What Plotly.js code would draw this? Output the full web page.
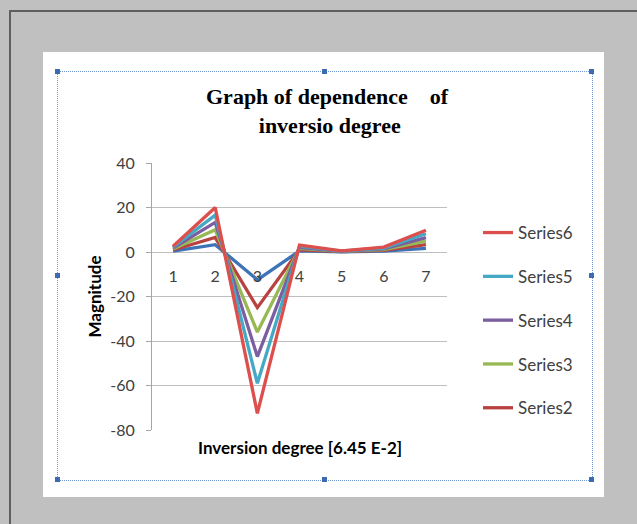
<!DOCTYPE html>
<html>
<head>
<meta charset="utf-8">
<script src="https://cdn.plot.ly/plotly-3.0.1.min.js"></script>
<style>
  html, body { margin: 0; padding: 0; width: 637px; height: 524px; overflow: hidden; background: #C0C0C0; }
  #frame { position: absolute; left: 9px; top: 10px; width: 640px; height: 520px;
           border-left: 2px solid #5E5E5E; border-top: 2px solid #5E5E5E; }
  #panel { position: absolute; left: 43px; top: 52px; width: 561px; height: 445px; background: #FFFFFF; }
  #sel { position: absolute; left: 57px; top: 71px; width: 534px; height: 408px;
         border: 1px dotted #6F98D2; }
  .h { position: absolute; width: 5px; height: 5px; background: #3A6BB3; }
  #chart { position: absolute; left: 0; top: 0; width: 637px; height: 524px; }
</style>
</head>
<body>
<div id="frame"></div>
<div id="panel"></div>
<div id="sel"></div>
<div class="h" style="left:55px;top:69px"></div>
<div class="h" style="left:322px;top:69px"></div>
<div class="h" style="left:589px;top:69px"></div>
<div class="h" style="left:55px;top:273px"></div>
<div class="h" style="left:589px;top:273px"></div>
<div class="h" style="left:55px;top:477px"></div>
<div class="h" style="left:322px;top:477px"></div>
<div class="h" style="left:589px;top:477px"></div>
<div id="chart"></div>
<script>
const categories = ["1", "2", "3", "4", "5", "6", "7"];
const series1 = [0.4, 3.3, -12.5, 0.5, 0.08, 0.4, 1.6];
const series2 = [0.9, 6.5, -25, 1.0, 0.16, 0.7, 3.3];
const series3 = [1.3, 10, -36, 1.6, 0.25, 1.1, 4.9];
const series4 = [1.8, 13.3, -47, 2.1, 0.33, 1.4, 6.5];
const series5 = [2.2, 16.6, -59, 2.6, 0.4, 1.8, 8.2];
const series6 = [2.6, 20, -72.5, 3.1, 0.5, 2.2, 9.8];
const seriesNames = ["Series1", "Series2", "Series3", "Series4", "Series5", "Series6"];
const yTicks = [-80, -60, -40, -20, 0, 20, 40];

const allSeries = [series1, series2, series3, series4, series5, series6];
const colors = ["#3D74B8", "#B8423F", "#97B854", "#7B5EA0", "#45A8C4", "#DC4F4C"];

const traces = allSeries.map((vals, i) => ({
  type: "scatter",
  mode: "lines",
  x: categories,
  y: vals,
  name: seriesNames[i],
  legendgroup: seriesNames[i],
  legendrank: 100 - i,
  showlegend: i > 0,
  line: { color: colors[i], width: 3.3 },
  hoverinfo: "x+y+name"
}));

const layout = {
  width: 637,
  height: 524,
  paper_bgcolor: "rgba(0,0,0,0)",
  plot_bgcolor: "rgba(0,0,0,0)",
  margin: { l: 152, r: 190, t: 163, b: 94 },
  showlegend: true,
  title: {
    text: "Graph of dependence\u00A0\u00A0\u00A0 of<br>\u00A0inversio degree",
    font: { family: "Liberation Serif", size: 22, color: "#000000", weight: "bold" },
    x: 327 / 637,
    xanchor: "center",
    xref: "container",
    y: 1 - 104 / 524,
    yanchor: "top",
    yref: "container"
  },
  font: { family: "Lato", color: "#404040" },
  xaxis: {
    type: "category",
    range: [-0.5, 6.5],
    anchor: "free",
    position: 80 / 120,
    showline: false,
    showgrid: false,
    zeroline: false,
    ticks: "",
    ticklabelstandoff: 13,
    tickfont: { family: "Lato", size: 16, color: "#404040" },
    fixedrange: true
  },
  yaxis: {
    range: [-80, 40],
    tickvals: yTicks,
    ticktext: yTicks.map(String),
    showline: true,
    linecolor: "#A6A6A6",
    linewidth: 1,
    ticks: "outside",
    ticklen: 5,
    tickcolor: "#A6A6A6",
    showgrid: true,
    gridcolor: "#BFBFBF",
    gridwidth: 1,
    zeroline: false,
    ticklabelstandoff: 8,
    tickfont: { family: "Lato", size: 16, color: "#404040" },
    title: {
      text: "Magnitude",
      font: { family: "Lato", size: 17, color: "#000000", weight: "bold" },
      standoff: 4
    },
    fixedrange: true
  },
  legend: {
    x: (478 - 152) / 295,
    xanchor: "left",
    y: (430 - 215) / 267,
    yanchor: "top",
    traceorder: "grouped",
    tracegroupgap: 18.7,
    bgcolor: "rgba(0,0,0,0)",
    font: { family: "Lato", size: 17, color: "#404040" },
    itemwidth: 30
  },
  annotations: [{
    text: "Inversion degree [6.45 E-2]",
    xref: "paper",
    yref: "paper",
    x: (300 - 152) / 295,
    y: -(447 - 430) / 267,
    xanchor: "center",
    yanchor: "middle",
    showarrow: false,
    font: { family: "Lato", size: 17, color: "#000000", weight: "bold" }
  }]
};

Plotly.newPlot("chart", traces, layout, { displayModeBar: false, staticPlot: false });
</script>
</body>
</html>
